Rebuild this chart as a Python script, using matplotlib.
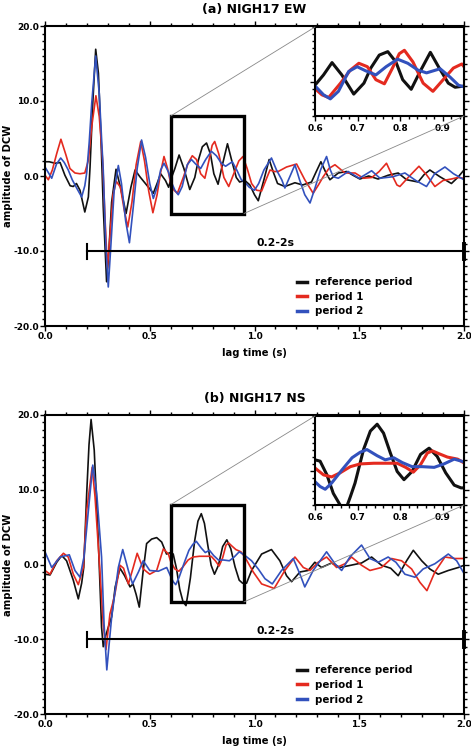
import matplotlib
matplotlib.use("Agg")
import matplotlib.pyplot as plt
from matplotlib.patches import Rectangle, ConnectionPatch
from matplotlib.ticker import MultipleLocator, FormatStrFormatter, FixedLocator

plt.rcParams['font.family'] = ['DejaVu Sans']
plt.rcParams['font.weight'] = 'bold'
plt.rcParams['axes.unicode_minus'] = False

# ---- panel (a) NIGH17 EW : values ----
a_ref_t = [0.0, 0.02, 0.048, 0.072, 0.095, 0.12, 0.135, 0.15, 0.167, 0.19, 0.207, 0.215, 0.228, 0.242,
           0.255, 0.267, 0.278, 0.294, 0.305, 0.318, 0.339, 0.36, 0.387, 0.41, 0.43, 0.453, 0.485, 0.517,
           0.535, 0.552, 0.575, 0.59, 0.6, 0.62, 0.64, 0.663, 0.691, 0.715, 0.731, 0.751, 0.771, 0.79,
           0.806, 0.826, 0.846, 0.871, 0.89, 0.913, 0.929, 0.954, 0.978, 1.0, 1.018, 1.045, 1.07, 1.09,
           1.11, 1.145, 1.193, 1.23, 1.272, 1.295, 1.317, 1.34, 1.36, 1.4, 1.44, 1.47, 1.503, 1.545, 1.59,
           1.638, 1.686, 1.726, 1.781, 1.81, 1.837, 1.885, 1.94, 1.97, 2.0]
a_ref_y = [1.9, 1.9, 1.7, 1.8, 0.1, -1.3, -1.4, -1.0, -1.9, -4.8, -2.8, 1.2, 9.7, 16.9,
           13.7, 5.2, -4.1, -14.1, -10.0, -3.5, 0.9, -1.5, -5.0, -1.5, 0.8, -0.1, -1.2, -2.3,
           -1.0, 0.3, -0.6, -1.5, -0.5, 1.0, 2.8, 1.0, -1.8, -0.2, 2.0, 3.9, 4.4, 2.9,
           0.3, -1.1, 1.4, 4.3, 2.2, -0.2, -0.8, -0.6, -1.2, -2.5, -3.3, -0.5, 2.2, 0.5,
           -1.0, -1.4, -0.9, -1.2, -0.8, 0.6, 1.9, 0.5, -0.5, 0.4, 0.6, 0.1, -0.4, 0.0, -0.4,
           0.1, 0.4, -0.5, -0.8, 0.2, 0.8, -0.1, -1.0, -0.2, 0.8]

a_p1_t = [0.0, 0.016, 0.035, 0.056, 0.076, 0.1, 0.119, 0.143, 0.167, 0.19, 0.207, 0.223, 0.243, 0.259,
          0.275, 0.287, 0.298, 0.31, 0.325, 0.34, 0.36, 0.378, 0.395, 0.415, 0.435, 0.457, 0.475, 0.495,
          0.515, 0.535, 0.552, 0.568, 0.585, 0.6, 0.616, 0.632, 0.66, 0.683, 0.703, 0.723, 0.743, 0.763,
          0.782, 0.798, 0.81, 0.83, 0.854, 0.877, 0.901, 0.925, 0.945, 0.965, 0.986, 1.01, 1.034, 1.055,
          1.074, 1.095, 1.113, 1.153, 1.201, 1.24, 1.28, 1.305, 1.328, 1.355, 1.384, 1.432, 1.48, 1.52,
          1.56, 1.595, 1.63, 1.655, 1.68, 1.694, 1.74, 1.785, 1.82, 1.861, 1.9, 1.94, 1.97, 2.0]
a_p1_y = [0.1, -0.5, 0.8, 3.0, 4.9, 2.8, 1.0, 0.4, 0.3, 0.4, 2.1, 6.6, 10.7, 7.9,
          2.1, -6.0, -12.3, -8.0, -2.5, -0.7, -1.5, -4.5, -6.8, -3.5, 1.5, 4.6, 2.0, -2.0,
          -4.9, -2.5, 0.5, 2.6, 1.0, -1.0, -1.9, -2.3, -0.2, 1.7, 2.7, 2.2, 0.3, -0.3,
          2.0, 4.1, 4.6, 2.9, -0.2, -1.4, 0.3, 2.0, 2.6, 1.0, -1.0, -1.9, -2.0, -0.5,
          0.8, 0.6, 0.6, 1.2, 1.6, -0.5, -2.3, -1.2, -0.1, 1.0, 1.5, 0.4, 0.4, -0.3,
          -0.2, 0.6, 1.7, 0.2, -1.2, -1.4, 0.0, 1.3, 0.2, -1.4, -0.6, -0.4, -0.2, -0.3]

a_p2_t = [0.0, 0.032, 0.055, 0.075, 0.092, 0.111, 0.13, 0.151, 0.175, 0.19, 0.199, 0.211, 0.223, 0.242,
          0.259, 0.27, 0.278, 0.29, 0.302, 0.315, 0.33, 0.35, 0.365, 0.385, 0.403, 0.42, 0.44, 0.461,
          0.48, 0.5, 0.517, 0.535, 0.552, 0.568, 0.59, 0.6, 0.62, 0.636, 0.655, 0.679, 0.699, 0.719,
          0.743, 0.767, 0.794, 0.818, 0.842, 0.862, 0.894, 0.917, 0.937, 0.953, 0.975, 1.0, 1.02, 1.045,
          1.081, 1.105, 1.13, 1.145, 1.17, 1.193, 1.215, 1.24, 1.265, 1.29, 1.315, 1.344, 1.362, 1.376,
          1.4, 1.447, 1.5, 1.53, 1.559, 1.599, 1.66, 1.718, 1.77, 1.821, 1.86, 1.909, 1.95, 2.0]
a_p2_y = [1.2, -0.3, 1.6, 2.4, 1.8, 0.8, -0.5, -1.6, -2.8, -1.3, 0.4, 4.5, 9.7, 16.0,
          11.0, 5.0, 0.8, -9.0, -14.8, -9.0, -2.0, 1.4, -1.0, -6.0, -8.9, -4.5, 1.0, 4.8,
          2.5, -1.0, -3.0, -1.5, 0.8, 1.7, 0.5, -0.6, -1.9, -2.5, -1.4, 1.5, 2.2, 1.6,
          1.0, 2.2, 3.3, 2.7, 1.7, 1.3, 1.9, 0.7, -0.5, -0.8, -1.5, -1.9, -1.0, 0.8,
          2.4, 0.8, -0.5, -1.6, 0.0, 1.5, -0.5, -2.5, -3.6, -1.5, 0.8, 2.6, 0.8, -0.1,
          -0.3, 0.6, -0.3, 0.2, 0.7, -0.3, -0.1, 0.4, -0.6, -1.4, 0.3, 1.2, 0.3, -0.5]

# ---- panel (b) NIGH17 NS ----
b_ref_t = [0.0, 0.024, 0.056, 0.08, 0.103, 0.135, 0.159, 0.175, 0.185, 0.199, 0.21, 0.22, 0.235, 0.255,
           0.27, 0.278, 0.29, 0.302, 0.318, 0.335, 0.358, 0.38, 0.406, 0.42, 0.435, 0.45, 0.468, 0.485,
           0.509, 0.533, 0.557, 0.58, 0.6, 0.612, 0.628, 0.643, 0.659, 0.673, 0.683, 0.694, 0.714, 0.73,
           0.746, 0.761, 0.777, 0.793, 0.809, 0.828, 0.848, 0.868, 0.887, 0.907, 0.927, 0.943, 0.962, 0.986,
           1.034, 1.081, 1.121, 1.153, 1.177, 1.217, 1.256, 1.288, 1.32, 1.368, 1.408, 1.46, 1.511, 1.559,
           1.606, 1.65, 1.686, 1.726, 1.758, 1.798, 1.837, 1.877, 1.925, 1.973, 2.0]
b_ref_y = [-1.3, -1.4, 0.3, 1.2, 0.5, -2.1, -4.6, -2.5, -0.4, 9.5, 16.0, 19.4, 15.3, 2.8,
           -8.4, -11.0, -9.5, -8.4, -7.0, -3.0, -0.5, -1.5, -3.0, -2.6, -4.0, -5.7, -1.0, 2.8,
           3.4, 3.6, 3.0, 1.4, 1.6, 1.4, -0.6, -3.3, -5.0, -5.5, -3.8, -1.8, 3.1, 5.8,
           6.8, 5.5, 2.6, -0.1, -1.3, -0.1, 2.4, 3.3, 2.1, -0.3, -2.1, -2.5, -2.5, -0.8,
           1.4, 2.0, 0.5, -1.5, -2.3, -1.0, -0.8, 0.3, -0.4, 0.2, -0.4, -0.1, 0.2, 1.0,
           -0.1, -0.5, -1.5, 0.5, 1.9, 0.5, -0.6, -1.3, -0.8, -0.4, -0.1]

b_p1_t = [0.0, 0.024, 0.056, 0.088, 0.111, 0.135, 0.159, 0.183, 0.199, 0.225, 0.239, 0.262, 0.278, 0.291,
          0.31, 0.325, 0.334, 0.358, 0.375, 0.398, 0.42, 0.44, 0.469, 0.5, 0.533, 0.565, 0.589, 0.6,
          0.62, 0.639, 0.659, 0.683, 0.706, 0.738, 0.769, 0.793, 0.813, 0.831, 0.848, 0.864, 0.876, 0.891,
          0.911, 0.935, 0.954, 0.994, 1.034, 1.094, 1.145, 1.193, 1.233, 1.265, 1.304, 1.344, 1.392, 1.432,
          1.463, 1.511, 1.551, 1.606, 1.654, 1.702, 1.75, 1.79, 1.823, 1.861, 1.909, 1.957, 2.0]
b_p1_y = [-0.8, -1.3, 0.5, 1.5, 1.0, -1.3, -2.7, -0.4, 7.2, 13.0, 9.0, -0.8, -8.0, -11.4,
          -6.6, -5.0, -3.9, -0.1, -0.5, -2.6, -0.5, 1.5, -0.6, -1.3, -0.8, 2.1, 1.4, 0.4,
          -0.6, -0.9, -0.3, 0.6, 1.0, 1.1, 1.1, 1.1, 0.5, -0.2, 0.9, 2.6, 2.9, 2.5,
          2.0, 1.7, 1.0, -1.0, -2.6, -3.2, -0.8, 1.0, -0.4, -0.8, 0.3, 1.0, -0.4, 0.1,
          1.0, -0.1, -0.8, -0.4, 0.8, 0.5, -0.6, -2.4, -3.5, -1.0, 1.0, 0.8, 0.8]

b_p2_t = [0.0, 0.032, 0.072, 0.116, 0.143, 0.167, 0.186, 0.207, 0.228, 0.247, 0.27, 0.282, 0.295, 0.305,
          0.318, 0.335, 0.35, 0.371, 0.398, 0.418, 0.446, 0.469, 0.5, 0.541, 0.581, 0.6, 0.612, 0.624,
          0.639, 0.663, 0.687, 0.706, 0.722, 0.746, 0.765, 0.785, 0.805, 0.828, 0.852, 0.88, 0.903, 0.927,
          0.95, 0.986, 1.018, 1.05, 1.085, 1.129, 1.185, 1.217, 1.24, 1.28, 1.344, 1.384, 1.416, 1.455,
          1.511, 1.551, 1.591, 1.638, 1.675, 1.718, 1.766, 1.805, 1.861, 1.925, 1.965, 2.0]
b_p2_y = [1.7, -0.4, 1.0, 1.3, -0.8, -1.7, 1.0, 7.2, 13.3, 9.5, 1.0, -8.0, -14.1, -11.0,
          -7.1, -3.5, -0.4, 2.0, -0.8, -2.6, -1.0, 0.5, -0.8, -0.9, -0.4, -1.6, -2.3, -2.7,
          -1.8, 0.1, 1.9, 2.7, 3.1, 2.2, 1.6, 1.9, 1.2, 0.6, 0.6, 0.5, 1.0, 1.7,
          1.3, 0.5, -0.6, -1.9, -2.6, -0.8, 0.8, -1.3, -3.0, -0.8, 1.7, 0.1, -0.8, 1.0,
          2.6, 0.8, 0.3, 1.0, 0.3, -1.3, -1.7, -0.6, 0.1, 1.4, 0.5, -1.2]

labels = ['reference period', 'period 1', 'period 2']
colors = ['#111111', '#e42a1f', '#3251bd']
zoom_x = (0.6, 0.95)
zoom_y = (-5, 8)
band_text = '0.2-2s'

W, H = 471, 749
fig = plt.figure(figsize=(W / 100, H / 100), dpi=100)


def px_rect(l, t, r, b):
    return [l / W, 1 - b / H, (r - l) / W, (b - t) / H]


def style_ticks(ax):
    ax.tick_params(which='both', direction='out', top=True, right=True, width=1.0,
                   labelsize=6.5, pad=1.0)
    ax.tick_params(which='major', length=3.5)
    ax.tick_params(which='minor', length=2.0)
    for s in ax.spines.values():
        s.set_linewidth(1.5)


def draw_panel(rect, ins_rect, curves, title, top_px, bottom_px):
    ax = fig.add_axes(px_rect(*rect))
    for (t, y), c, lab in zip(curves, colors, labels):
        ax.plot(t, y, color=c, lw=1.2, label=lab)
    ax.set_xlim(0, 2.0)
    ax.set_ylim(-20, 20)
    ax.xaxis.set_major_locator(MultipleLocator(0.5))
    ax.xaxis.set_minor_locator(MultipleLocator(0.1))
    ax.yaxis.set_major_locator(MultipleLocator(10))
    ax.yaxis.set_minor_locator(MultipleLocator(1))
    ax.xaxis.set_major_formatter(FormatStrFormatter('%.1f'))
    ax.yaxis.set_major_formatter(FormatStrFormatter('%.1f'))
    style_ticks(ax)

    # period band 0.2-2 s
    ax.plot([0.2, 2.0], [-10, -10], color='k', lw=1.5, clip_on=False)
    ax.plot([0.2, 0.2], [-11, -9], color='k', lw=1.5)
    ax.plot([2.0, 2.0], [-11, -9], color='k', lw=2.8, clip_on=False)
    ax.text(1.1, -9.3, band_text, ha='center', va='baseline', fontsize=7.8)

    leg = ax.legend(loc='upper left', bbox_to_anchor=(0.601, 0.163), frameon=False,
                    fontsize=7.4, handlelength=1.0, handletextpad=0.8, labelspacing=0.45,
                    borderpad=0, borderaxespad=0)
    for h in leg.get_lines():
        h.set_linewidth(2.5)

    ax.add_patch(Rectangle((zoom_x[0], zoom_y[0]), zoom_x[1] - zoom_x[0], zoom_y[1] - zoom_y[0],
                           fill=False, ec='k', lw=2.4, zorder=5))

    axins = fig.add_axes(px_rect(*ins_rect))
    for (t, y), c in zip(curves, colors):
        axins.plot(t, y, color=c, lw=2.2)
    axins.set_xlim(*zoom_x)
    axins.set_ylim(*zoom_y)
    axins.xaxis.set_major_locator(FixedLocator([0.6, 0.7, 0.8, 0.9]))
    axins.xaxis.set_minor_locator(MultipleLocator(0.02))
    axins.yaxis.set_major_locator(FixedLocator([0]))
    axins.yaxis.set_minor_locator(MultipleLocator(1))
    axins.xaxis.set_major_formatter(FormatStrFormatter('%.1f'))
    axins.tick_params(which='both', direction='out', width=1.0, labelsize=6.5, pad=2.5,
                      labelleft=False)
    axins.tick_params(which='major', length=3.5)
    axins.tick_params(which='minor', length=2.0)
    for s in axins.spines.values():
        s.set_linewidth(1.5)

    for xyA, xyB in [((zoom_x[0], zoom_y[1]), (0, 1)), ((zoom_x[1], zoom_y[0]), (1, 0))]:
        con = ConnectionPatch(xyA=xyA, coordsA=ax.transData, xyB=xyB, coordsB=axins.transAxes,
                              color='#888888', lw=0.6)
        fig.add_artist(con)

    mid = (rect[1] + rect[3]) / 2
    fig.text(254.5 / W, 1 - top_px / H, title, ha='center', va='baseline', fontsize=9)
    fig.text(254.5 / W, 1 - bottom_px / H, 'lag time (s)', ha='center', va='top', fontsize=7.2)
    fig.text(8 / W, 1 - mid / H, 'amplitude of DCW', ha='center', va='center',
             rotation=90, fontsize=7.2)
    return ax


draw_panel((45, 26, 464, 326), (315, 27, 464, 116),
           [(a_ref_t, a_ref_y), (a_p1_t, a_p1_y), (a_p2_t, a_p2_y)],
           '(a) NIGH17 EW', 13.5, 348)
draw_panel((45, 415, 464, 714), (315, 416, 464, 505),
           [(b_ref_t, b_ref_y), (b_p1_t, b_p1_y), (b_p2_t, b_p2_y)],
           '(b) NIGH17 NS', 401.7, 736)

fig.savefig('out.png', dpi=100)
